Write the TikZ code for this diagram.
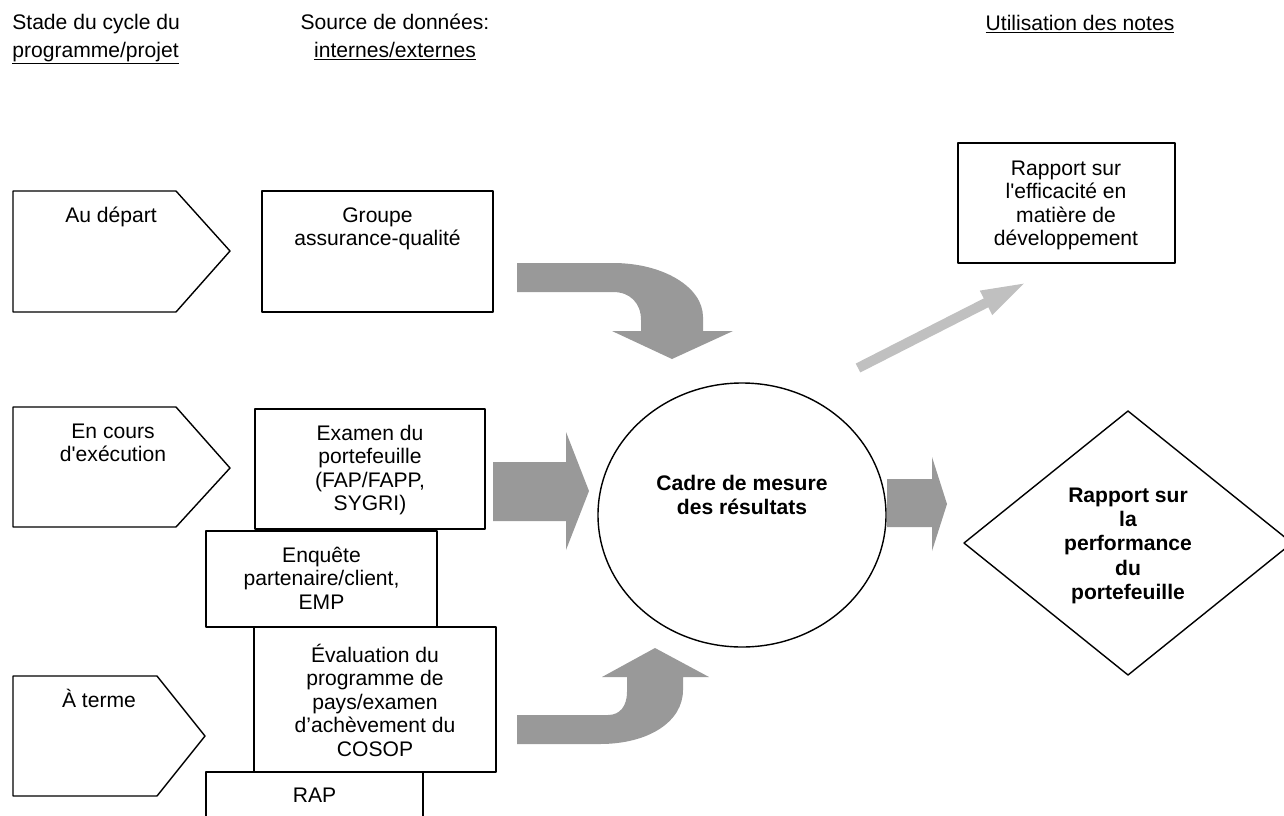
\documentclass[tikz,border=0pt]{standalone}
\usepackage{fontspec}
\setmainfont{Liberation Sans}
\usetikzlibrary{arrows.meta}
\definecolor{grisF}{HTML}{999999}
\definecolor{grisC}{HTML}{C0C0C0}
\begin{document}
\begin{tikzpicture}[x=0.02cm,y=-0.02cm,line join=round,
	font=\fontsize{12}{13.4}\selectfont,
	trait/.style={line width=0.8pt},
	txt/.style={align=center,anchor=base,inner sep=0pt},
	gras/.style={font=\fontsize{12}{13.9}\selectfont\bfseries}]
	\useasboundingbox (0,0) rectangle (1284,815);
	%En-têtes (ancre = ligne de base de la dernière ligne)
	\node[txt,align=left,anchor=base west] (stade) at (12,57) {Stade du cycle du\\[0.07cm]\underline{programme/projet}};
	\node[txt] (source) at (395,57) {Source de données:\\[0.07cm]\underline{internes/externes}};
	\node[txt] (utilisation) at (1080,30) {\underline{Utilisation des notes}};
	%Stades du cycle
	\draw[trait] (13,191)--(176,191)--(230,251)--(176,312)--(13,312)--cycle;
	\draw[trait] (13,407)--(176,407)--(230,468)--(176,527)--(13,527)--cycle;
	\draw[trait] (13,676)--(157,676)--(205,736)--(157,796)--(13,796)--cycle;
	\node[txt] (audepart) at (111,222) {Au départ};
	\node[txt] (encours) at (113,461.6) {En cours\\d\textquotesingle exécution};
	\node[txt] (aterme) at (99,707) {À terme};
	%Sources de données
	\draw[trait] (262,191) rectangle (493,312);
	\draw[trait,fill=white] (255,409) rectangle (485,529);
	\draw[trait,fill=white] (206,531) rectangle (437,627);
	\draw[trait,fill=white] (254,627) rectangle (496,772);
	\draw[trait,fill=white] (206,772) rectangle (423,830);
	\node[txt] (groupe) at (377.5,245.6) {Groupe\\assurance-qualité};
	\node[txt] (examen) at (370,510.7) {Examen du\\portefeuille\\(FAP/FAPP,\\SYGRI)};
	\node[txt] (enquete) at (321.5,609.1) {Enquête\\partenaire/client,\\EMP};
	\node[txt] (evaluation) at (375,756.3) {Évaluation du\\programme de\\pays/examen\\d’achèvement du\\COSOP};
	\node[txt] (rap) at (314.5,802) {RAP};
	%Flèches grises
	\fill[grisF] (517,263)--(613,263) .. controls (663,263) and (703,287) .. (703,317)--(703,331)--(733,331)--(672,359)--(612,331)--(641,331)--(641,320) .. controls (641,303) and (630,292) .. (613,292)--(517,292)--cycle;
	\fill[grisF] (493,462)--(566,462)--(566,432)--(589,491)--(566,550)--(566,521)--(493,521)--cycle;
	\fill[grisF] (517,744)--(600,744) .. controls (648,744) and (683,722) .. (683,690)--(683,677)--(709,677)--(655,648)--(602,677)--(627,677)--(627,692) .. controls (627,706) and (620,715) .. (608,715)--(517,715)--cycle;
	\fill[grisF] (887,479)--(932,479)--(932,457)--(947,504)--(932,551)--(932,527)--(887,527)--cycle;
	%Cadre de mesure
	\draw[trait] (742,515) ellipse [x radius=144,y radius=132];
	\node[txt,gras] (cadre) at (742,514.5) {Cadre de mesure\\des résultats};
	%Utilisation des notes
	\draw[trait] (958,143) rectangle (1175,263);
	\node[txt] (efficacite) at (1066,245.7) {Rapport sur\\l\textquotesingle efficacité en\\matière de\\développement};
	\draw[trait] (964,543)--(1128,411)--(1292,543)--(1128,675)--cycle;
	\node[txt,gras] (performance) at (1128,599.8) {Rapport sur\\la\\performance\\du\\portefeuille};
	\coordinate (depart) at (858,368);
	\coordinate (arrivee) at (1027,282);
	\draw[grisC,line width=0.2cm,-{Triangle[length=0.92cm,width=0.48cm]}] (depart)--(arrivee);
\end{tikzpicture}
\end{document}
